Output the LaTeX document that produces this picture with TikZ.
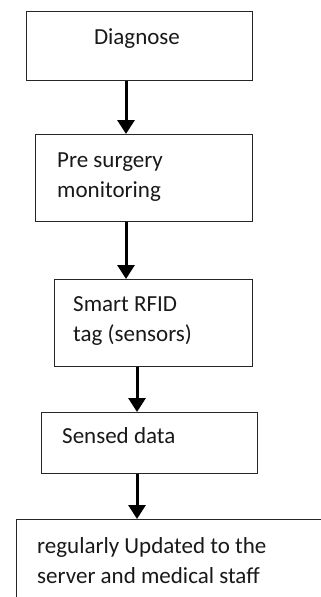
\documentclass[tikz,border=0pt]{standalone}
\usepackage{fontspec}
\setmainfont{Carlito}
\usetikzlibrary{arrows.meta}
\begin{document}
\begin{tikzpicture}[x=1pt,y=-1pt,
  box/.style={draw=black!85, line width=1.3pt, rectangle, inner sep=0pt, anchor=north west},
  txt/.style={anchor=base west, inner sep=0pt, align=left, text=black!90,
    font=\fontsize{23}{30}\selectfont},
  arr/.style={line width=3pt, -{Triangle[width=17pt,length=14pt]}}]
\useasboundingbox (0,0) rectangle (321,597);
\clip (0,0) rectangle (321,597);
\fill[white] (0,0) rectangle (321,597);

% boxes of the flow
\node[box, minimum width=226pt, minimum height=69pt] (d) at (26,11) {};
\node[box, minimum width=217pt, minimum height=87pt] (p) at (35,134) {};
\node[box, minimum width=198pt, minimum height=87pt] (s) at (54,279) {};
\node[box, minimum width=216pt, minimum height=61pt] (e) at (41,412) {};
\node[box, minimum width=320pt, minimum height=100pt] (u) at (16,519) {};

% labels (two-line labels are placed by the baseline of their last line)
\node[txt, anchor=base] (dt) at (137,44) {Diagnose};
\node[txt] (pt) at (57,197) {Pre surgery\\monitoring};
\node[txt] (st) at (73,341) {Smart RFID\\tag (sensors)};
\node[txt] (et) at (62,443) {Sensed data};
\node[txt] (ut) at (37,583) {regularly Updated to the\\server and medical staff};

% connectors
\coordinate (xa) at (126,0);
\coordinate (xb) at (137,0);
\draw[arr] (d.south -| xa) -- (p.north -| xa);
\draw[arr] (p.south -| xa) -- (s.north -| xa);
\draw[arr] (s.south -| xb) -- (e.north -| xb);
\draw[arr] (e.south -| xb) -- (u.north -| xb);
\end{tikzpicture}
\end{document}
